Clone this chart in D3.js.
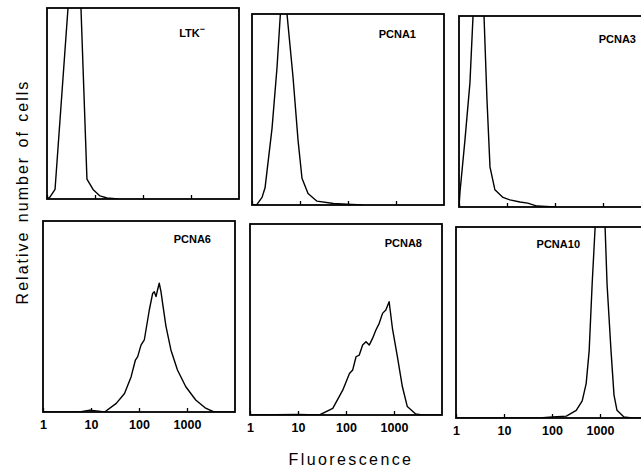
<!DOCTYPE html>
<html>
<head>
  <title>PCNA fluorescence</title>
  <script src="https://cdnjs.cloudflare.com/ajax/libs/d3/7.8.5/d3.min.js"></script>
  <style>
  body { margin: 0; background: #fff; }
  svg { display: block; }
  .lbl { font-family: "Liberation Sans", Arial, Helvetica, sans-serif; font-weight: bold; }
  .ttl { font-family: "Liberation Sans", Arial, Helvetica, sans-serif; }
  </style>
</head>
<body>
  <script>

// panel names (order: top row, bottom row)
var panelNames = ["LTK", "PCNA1", "PCNA3", "PCNA6", "PCNA8", "PCNA10"];
var panelSup = ["\u2212", "", "", "", "", ""];

// histograms: [fluorescence, relative count (1 = full panel height)]
var ltk = [[1.0,0],[1.15,0.01],[1.47,0.05],[2.0,0.52],[2.74,1.0],[3.32,1.3],[4.64,1.3],[5.1,1.0],
  [6.8,0.104],[9.1,0.05],[12.7,0.016],[17.8,0.005],[30,0]];
var pcna1 = [[1.0,0],[1.27,0.003],[1.62,0.04],[1.87,0.09],[2.61,0.4],[3.32,0.72],[3.9,1.0],
  [4.6,1.02],[5.36,1.0],[7.15,0.67],[9.1,0.34],[11,0.14],[14.7,0.06],[22.6,0.02],[50,0.008],[95,0.004],[200,0]];
var pcna3 = [[1.0,0],[1.05,0.08],[1.33,0.35],[1.69,0.65],[1.96,1.0],[2.4,1.25],[3.0,1.25],[3.32,1.0],
  [3.83,0.56],[4.42,0.21],[5.6,0.09],[8.25,0.05],[11.5,0.037],[18.6,0.026],[27,0.02],[42,0.005],[100,0]];
var pcna6 = [[1.0,0],[5.8,0],[9.4,0.01],[13,0.006],[19.2,0],[33.6,0.045],[49.9,0.097],[68.6,0.185],
  [84.2,0.272],[94,0.29],[110,0.35],[129,0.377],[164,0.534],[192,0.62],[208,0.63],[226,0.604],
  [244,0.64],[264,0.674],[287,0.63],[310,0.57],[364,0.45],[462,0.325],[633,0.22],[944,0.132],
  [1520,0.063],[2449,0.02],[3640,0],[10000,0]];
var pcna8 = [[1.0,0],[10,0.003],[28,0],[53,0.035],[85.5,0.13],[118,0.217],[138,0.236],[162,0.305],
  [189,0.314],[222,0.366],[261,0.384],[305,0.366],[357,0.401],[420,0.445],[492,0.48],[577,0.532],
  [676,0.55],[792,0.593],[927,0.454],[1176,0.306],[1493,0.149],[1893,0.044],[2827,0.005],[3873,0],[10000,0]];
var pcna10 = [[1.0,0],[55,0],[102,0.005],[199,0.01],[320,0.04],[426,0.09],[515,0.18],[594,0.35],
  [686,0.7],[792,1.0],[1000,1.3],[1276,1.0],[1403,0.7],[1698,0.35],[1959,0.12],[2259,0.04],
  [3155,0.005],[4620,0],[10000,0]];
var curves = [ltk, pcna1, pcna3, pcna6, pcna8, pcna10];

var tickValues = [1, 10, 100, 1000];
var tickLabels = ["1", "10", "100", "1000"];

// where each panel sits on the page (scanned figure, slightly uneven)
var frames = [
  {left: 47, top: 8, lx: 205, ly: 37},
  {left: 252, top: 14, lx: 416, ly: 38},
  {left: 459, top: 16, lx: 636, ly: 43},
  {left: 43, top: 221, lx: 211, ly: 243},
  {left: 250, top: 224, lx: 422, ly: 247},
  {left: 456, top: 227, lx: 580, ly: 248}
];
var panelW = 192, panelH = 191;

var width = 641, height = 468;

var svg = d3.select("body").append("svg")
        .attr("width", width)
        .attr("height", height);

var xScale = d3.scaleLog()
        .domain([1, 10000])
        .range([0, panelW]);

var yScale = d3.scaleLinear()
        .domain([0, 1])
        .range([panelH, 0]);

var line = d3.line()
        .x(function(d) { return xScale(d[0]); })
        .y(function(d) { return yScale(d[1]); });

frames.forEach(function(f, i) {
  var g = svg.append("g")
        .attr("transform", "translate(" + f.left + "," + f.top + ")");

  g.append("clipPath")
        .attr("id", "clip" + i)
        .append("rect")
        .attr("width", panelW)
        .attr("height", panelH);

  g.append("path")
        .datum(curves[i])
        .attr("d", line)
        .attr("clip-path", "url(#clip" + i + ")")
        .attr("fill", "none")
        .attr("stroke", "#000")
        .attr("stroke-width", 1.4)
        .attr("stroke-linejoin", "round");

  var bottomRow = i >= 3;
  var xAxis = d3.axisBottom(xScale)
        .tickValues(tickValues)
        .tickSizeInner(-4)
        .tickSizeOuter(0)
        .tickPadding(8)
        .tickFormat(function(d, k) { return bottomRow ? tickLabels[k] : ""; });

  var ax = g.append("g")
        .attr("transform", "translate(0," + panelH + ")")
        .call(xAxis);
  ax.select(".domain").remove();
  ax.selectAll(".tick line").attr("stroke", "#000").attr("stroke-width", 1.3);
  ax.selectAll(".tick text")
        .attr("class", "lbl")
        .attr("font-size", "12.5px")
        .attr("fill", "#000");

  g.append("rect")
        .attr("width", panelW)
        .attr("height", panelH)
        .attr("fill", "none")
        .attr("stroke", "#000")
        .attr("stroke-width", 1.8);

  var t = svg.append("text")
        .attr("class", "lbl")
        .attr("x", f.lx)
        .attr("y", f.ly)
        .attr("text-anchor", "end")
        .attr("font-size", "11px")
        .text(panelNames[i]);
  if (panelSup[i]) {
    t.append("tspan")
        .attr("dy", -5)
        .attr("font-size", "9px")
        .text(panelSup[i]);
  }
});

svg.append("text")
        .attr("class", "ttl")
        .attr("transform", "translate(28,192) rotate(-90)")
        .attr("text-anchor", "middle")
        .attr("font-size", "16px")
        .attr("letter-spacing", "2px")
        .attr("word-spacing", "2px")
        .text("Relative number of cells");

svg.append("text")
        .attr("class", "ttl")
        .attr("x", 351)
        .attr("y", 465)
        .attr("text-anchor", "middle")
        .attr("font-size", "16px")
        .attr("letter-spacing", "2.4px")
        .text("Fluorescence");

  </script>
</body>
</html>
